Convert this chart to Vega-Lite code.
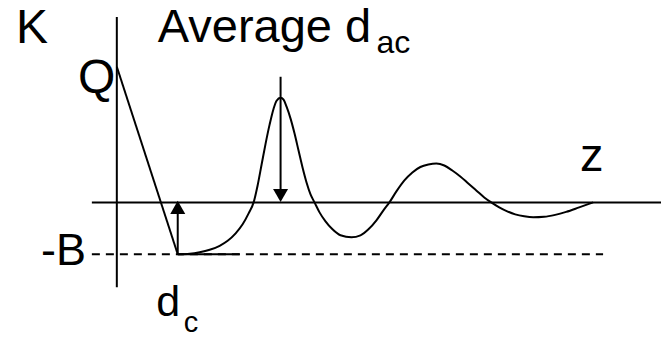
{
  "$schema": "https://vega.github.io/schema/vega-lite/v6.json",
  "width": 662,
  "height": 338,
  "autosize": {"type": "fit", "contains": "padding"},
  "padding": 0,
  "background": "white",
  "config": {"view": {"stroke": null}, "axis": {"disable": true}},
  "encoding": {
    "x": {"type": "quantitative", "scale": {"domain": [-11.7, 54.5], "nice": false, "zero": false}, "axis": null},
    "y": {"type": "quantitative", "scale": {"domain": [-13.5, 20.3], "nice": false, "zero": false}, "axis": null}
  },
  "layer": [
    {
      "data": {"values": [
        {"z": 0, "K": 18.6, "z2": 0, "K2": -8.5},
        {"z": -2.5, "K": 0, "z2": 54.5, "K2": 0},
        {"z": 0, "K": 13.6, "z2": 6.1, "K2": -5.2},
        {"z": 6.1, "K": -5.2, "z2": 12.3, "K2": -5.2},
        {"z": 6.1, "K": -5.2, "z2": 6.1, "K2": -0.9},
        {"z": 16.4, "K": 12.6, "z2": 16.4, "K2": 1.0}
      ]},
      "mark": {"type": "rule", "color": "black", "strokeWidth": 2},
      "encoding": {
        "x": {"field": "z"}, "y": {"field": "K"},
        "x2": {"field": "z2"}, "y2": {"field": "K2"}
      }
    },
    {
      "data": {"values": [{"z": -2.5, "K": -5.2, "z2": 48.7, "K2": -5.2}]},
      "mark": {"type": "rule", "color": "black", "strokeWidth": 2, "strokeDash": [8, 6]},
      "encoding": {
        "x": {"field": "z"}, "y": {"field": "K"},
        "x2": {"field": "z2"}, "y2": {"field": "K2"}
      }
    },
    {
      "data": {"values": [
        {"z": 6.1, "K": -5.2}, {"z": 7.3, "K": -5.15}, {"z": 8.3, "K": -5.0}, {"z": 9.3, "K": -4.75},
        {"z": 10.3, "K": -4.35}, {"z": 11.1, "K": -3.85}, {"z": 11.9, "K": -3.1}, {"z": 12.6, "K": -2.2},
        {"z": 13.2, "K": -1.1}, {"z": 13.7, "K": 0}, {"z": 14.1, "K": 1.7}, {"z": 14.5, "K": 3.8},
        {"z": 14.9, "K": 5.9}, {"z": 15.3, "K": 7.8}, {"z": 15.7, "K": 9.4}, {"z": 16.0, "K": 10.2},
        {"z": 16.4, "K": 10.5}, {"z": 16.7, "K": 10.3}, {"z": 17.0, "K": 9.6}, {"z": 17.4, "K": 8.4},
        {"z": 17.8, "K": 6.9}, {"z": 18.2, "K": 5.2}, {"z": 18.6, "K": 3.5}, {"z": 19.0, "K": 2.0},
        {"z": 19.4, "K": 0.8}, {"z": 19.8, "K": 0}, {"z": 20.3, "K": -1.0}, {"z": 20.9, "K": -1.9},
        {"z": 21.6, "K": -2.7}, {"z": 22.4, "K": -3.3}, {"z": 23.5, "K": -3.5}, {"z": 24.4, "K": -3.3},
        {"z": 25.2, "K": -2.7}, {"z": 26.0, "K": -1.8}, {"z": 26.7, "K": -0.8}, {"z": 27.3, "K": 0},
        {"z": 28.0, "K": 1.1}, {"z": 28.8, "K": 2.2}, {"z": 29.6, "K": 3.0}, {"z": 30.4, "K": 3.55},
        {"z": 31.2, "K": 3.8}, {"z": 32.0, "K": 3.9}, {"z": 32.8, "K": 3.7}, {"z": 33.6, "K": 3.2},
        {"z": 34.4, "K": 2.6}, {"z": 35.2, "K": 1.9}, {"z": 36.0, "K": 1.2}, {"z": 36.8, "K": 0.5},
        {"z": 37.5, "K": 0}, {"z": 38.3, "K": -0.5}, {"z": 39.1, "K": -0.9}, {"z": 39.9, "K": -1.2},
        {"z": 40.8, "K": -1.4}, {"z": 41.7, "K": -1.5}, {"z": 42.8, "K": -1.45}, {"z": 43.9, "K": -1.25},
        {"z": 45.0, "K": -0.95}, {"z": 46.3, "K": -0.5}, {"z": 47.7, "K": 0}
      ]},
      "mark": {"type": "line", "color": "black", "strokeWidth": 2, "interpolate": "monotone"},
      "encoding": {"x": {"field": "z"}, "y": {"field": "K"}}
    },
    {
      "data": {"values": [
        {"z": 6.1, "K": -0.5, "dir": "up"},
        {"z": 16.4, "K": 0.7, "dir": "down"}
      ]},
      "mark": {"type": "point", "filled": true, "color": "black", "opacity": 1, "size": 225, "strokeWidth": 0},
      "encoding": {
        "x": {"field": "z"}, "y": {"field": "K"},
        "shape": {"field": "dir", "type": "nominal", "legend": null,
          "scale": {"domain": ["up", "down"], "range": ["M-1,0.87L1,0.87L0,-0.87Z", "M-1,-0.87L1,-0.87L0,0.87Z"]}}
      }
    },
    {
      "data": {"values": [
        {"z": -10.1, "K": 16.0, "label": "K"},
        {"z": -3.9, "K": 11.0, "label": "Q"}
      ]},
      "mark": {"type": "text", "align": "left", "baseline": "alphabetic", "font": "Liberation Sans", "fontSize": 48, "color": "black"},
      "encoding": {"x": {"field": "z"}, "y": {"field": "K"}, "text": {"field": "label"}}
    },
    {
      "data": {"values": [
        {"z": 4.1, "K": 16.1, "label": "Average d"}
      ]},
      "mark": {"type": "text", "align": "left", "baseline": "alphabetic", "font": "Liberation Sans", "fontSize": 47, "color": "black"},
      "encoding": {"x": {"field": "z"}, "y": {"field": "K"}, "text": {"field": "label"}}
    },
    {
      "data": {"values": [
        {"z": 46.4, "K": 3.1, "label": "z"}
      ]},
      "mark": {"type": "text", "align": "left", "baseline": "alphabetic", "font": "Liberation Sans", "fontSize": 47, "color": "black"},
      "encoding": {"x": {"field": "z"}, "y": {"field": "K"}, "text": {"field": "label"}}
    },
    {
      "data": {"values": [
        {"z": -7.6, "K": -6.3, "label": "-B"}
      ]},
      "mark": {"type": "text", "align": "left", "baseline": "alphabetic", "font": "Liberation Sans", "fontSize": 45, "color": "black"},
      "encoding": {"x": {"field": "z"}, "y": {"field": "K"}, "text": {"field": "label"}}
    },
    {
      "data": {"values": [
        {"z": 3.95, "K": -11.4, "label": "d"}
      ]},
      "mark": {"type": "text", "align": "left", "baseline": "alphabetic", "font": "Liberation Sans", "fontSize": 43, "color": "black"},
      "encoding": {"x": {"field": "z"}, "y": {"field": "K"}, "text": {"field": "label"}}
    },
    {
      "data": {"values": [
        {"z": 26.0, "K": 15.0, "label": "ac"}
      ]},
      "mark": {"type": "text", "align": "left", "baseline": "alphabetic", "font": "Liberation Sans", "fontSize": 32, "color": "black"},
      "encoding": {"x": {"field": "z"}, "y": {"field": "K"}, "text": {"field": "label"}}
    },
    {
      "data": {"values": [
        {"z": 6.7, "K": -13.0, "label": "c"}
      ]},
      "mark": {"type": "text", "align": "left", "baseline": "alphabetic", "font": "Liberation Sans", "fontSize": 29, "color": "black"},
      "encoding": {"x": {"field": "z"}, "y": {"field": "K"}, "text": {"field": "label"}}
    }
  ]
}
